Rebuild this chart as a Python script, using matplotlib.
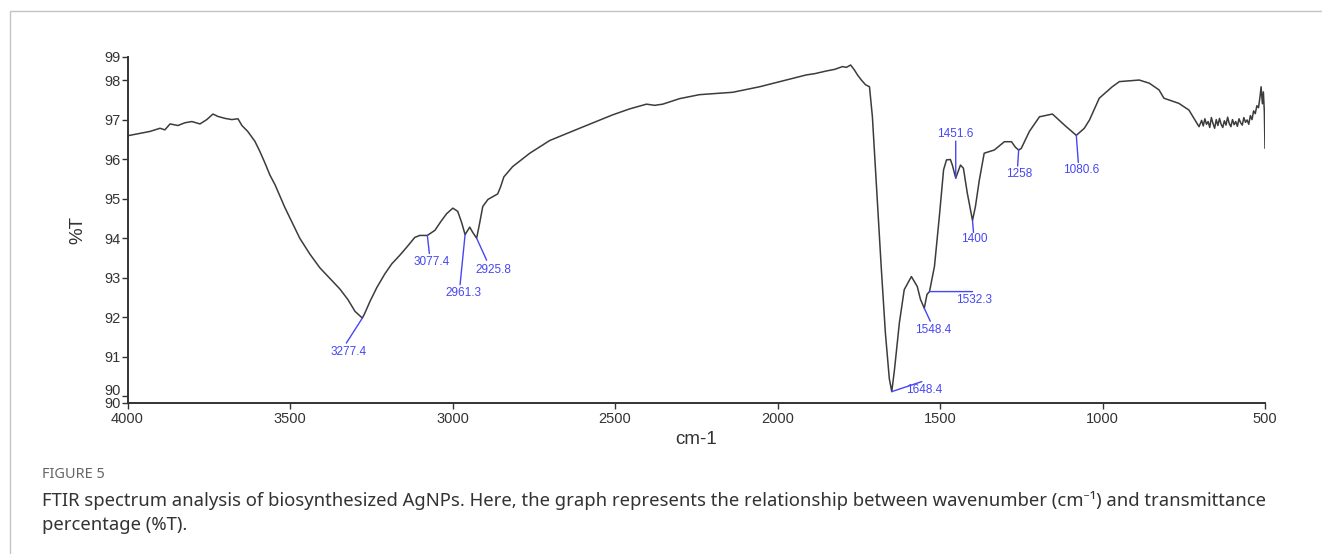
import numpy as np
import matplotlib
matplotlib.use('Agg')
import matplotlib.pyplot as plt
from matplotlib.patches import Rectangle
from matplotlib.transforms import ScaledTranslation

# spectrum (wavenumber cm-1, %T)
wavenumber = [4000, 3962, 3931, 3900, 3885, 3869, 3845, 3823, 3802, 3777,
              3756, 3737, 3722, 3700, 3679, 3660, 3648, 3630, 3608, 3593,
              3577, 3562, 3546, 3516, 3470, 3439, 3408, 3377, 3347, 3322,
              3300, 3277.4, 3270, 3254, 3233, 3208, 3187, 3162, 3138, 3116,
              3101, 3077.4, 3054, 3036, 3018, 2999, 2984, 2972, 2961.3, 2947,
              2938, 2925.8, 2916, 2907, 2891, 2876, 2861, 2852, 2842, 2815,
              2762, 2701, 2609, 2507, 2455, 2403, 2378, 2353, 2301, 2240,
              2138, 2055, 1963, 1911, 1886, 1849, 1824, 1800, 1788, 1775,
              1763, 1754, 1742, 1729, 1717, 1708, 1696, 1681, 1668, 1656,
              1648.4, 1640, 1625, 1610, 1588, 1570, 1560, 1548.4, 1540, 1532.3,
              1517, 1502, 1489, 1480, 1468, 1462, 1451.6, 1437, 1428, 1416,
              1400, 1391, 1379, 1364, 1333, 1302, 1280, 1268, 1258, 1250,
              1225, 1194, 1154, 1117, 1080.6, 1056, 1040, 1010, 970, 948,
              887, 856, 826, 811, 765, 734, 703, 695, 690, 685,
              680, 675, 670, 665, 660, 655, 650, 645, 640, 635,
              630, 625, 620, 615, 610, 605, 600, 595, 590, 585,
              580, 575, 570, 565, 560, 555, 550, 545, 540, 535,
              530, 525, 520, 515, 512, 508, 505, 502, 500]
transmittance = [96.59, 96.65, 96.70, 96.78, 96.74, 96.89, 96.85, 96.92, 96.95, 96.89,
                 97.00, 97.14, 97.08, 97.03, 97.00, 97.02, 96.85, 96.70, 96.45, 96.20,
                 95.90, 95.60, 95.35, 94.78, 94.00, 93.60, 93.25, 92.98, 92.72, 92.45,
                 92.15, 91.98, 92.10, 92.40, 92.75, 93.10, 93.35, 93.57, 93.80, 94.02,
                 94.07, 94.07, 94.20, 94.42, 94.62, 94.76, 94.68, 94.40, 94.09, 94.28,
                 94.15, 94.00, 94.40, 94.80, 94.98, 95.05, 95.12, 95.30, 95.55, 95.81,
                 96.15, 96.47, 96.78, 97.12, 97.27, 97.39, 97.36, 97.39, 97.53, 97.63,
                 97.69, 97.83, 98.02, 98.13, 98.16, 98.23, 98.27, 98.34, 98.32, 98.38,
                 98.25, 98.13, 98.00, 97.88, 97.83, 97.07, 95.40, 93.29, 91.60, 90.45,
                 90.12, 90.68, 91.86, 92.70, 93.03, 92.78, 92.45, 92.23, 92.58, 92.65,
                 93.29, 94.55, 95.73, 95.98, 95.99, 95.85, 95.52, 95.85, 95.77, 95.14,
                 94.45, 94.80, 95.47, 96.15, 96.23, 96.44, 96.44, 96.30, 96.23, 96.27,
                 96.70, 97.07, 97.14, 96.86, 96.60, 96.78, 96.99, 97.54, 97.83, 97.96,
                 98.00, 97.92, 97.75, 97.54, 97.41, 97.24, 96.82, 96.98, 96.84, 97.02,
                 96.88, 96.95, 96.80, 97.05, 96.90, 96.78, 97.00, 96.85, 97.03, 96.88,
                 96.80, 96.97, 96.86, 97.06, 96.90, 96.82, 97.00, 96.87, 96.95, 96.83,
                 97.02, 96.92, 96.86, 97.05, 96.93, 96.99, 96.88, 97.10, 97.00, 97.22,
                 97.15, 97.35, 97.30, 97.60, 97.83, 97.40, 97.70, 97.20, 96.28]

# labelled peaks and where their labels sit (offset in pixels from the peak)
peak_labels = ['3277.4', '3077.4', '2961.3', '2925.8', '1648.4', '1548.4',
               '1532.3', '1451.6', '1400', '1258', '1080.6']
peak_wn = [3277.4, 3077.4, 2961.3, 2925.8, 1648.4, 1548.4,
           1532.3, 1451.6, 1400, 1258, 1080.6]
line_off = [(-16, -25), (2, -18), (-5, -50), (10, -22), (30, 10), (6, -13),
            (43, 0), (0, 37), (1, -12), (-1, -16), (2, -27)]
text_off = [(-14, -34), (4, -27), (-2, -58), (17, -32), (32, 2), (9, -22),
            (45, -8), (0, 44), (2, -19), (1, -24), (5, -35)]

x_ticks = [4000, 3500, 3000, 2500, 2000, 1500, 1000, 500]
y_min, y_max = 89.84, 98.59
y_ticks = [y_min, 90, 91, 92, 93, 94, 95, 96, 97, 98, y_max]

caption_head = 'FIGURE 5'
caption_lines = ['FTIR spectrum analysis of biosynthesized AgNPs. Here, the graph represents the '
                 'relationship between wavenumber (cm\u207b\u00b9) and transmittance',
                 'percentage (%T).']

blue = '#4646f2'
tick_font = 'Liberation Sans'

fig = plt.figure(figsize=(13.22, 5.54), dpi=100)
fig.patches.append(Rectangle((10 / 1322, -0.1), 1.2, 1 - 11 / 554 + 0.1,
                             transform=fig.transFigure, fill=False,
                             edgecolor='#c4c4c4', linewidth=1.0))

ax = fig.add_axes([127.5 / 1322, 1 - 402.7 / 554, (1265 - 127.5) / 1322, (402.7 - 56.7) / 554])
ax.plot(wavenumber, transmittance, color='#3c3c3c', linewidth=1.1)
ax.set_xlim(4000, 500)
ax.set_ylim(y_min, y_max)

for side in ['top', 'right']:
    ax.spines[side].set_visible(False)
for side in ['left', 'bottom']:
    ax.spines[side].set_color('#333333')
    ax.spines[side].set_linewidth(1.4)

ax.set_xticks(x_ticks)
ax.set_xticklabels([str(t) for t in x_ticks])
ax.set_yticks(y_ticks)
ax.set_yticklabels(['%.0f' % t for t in y_ticks])
ax.tick_params(axis='both', length=4, width=1, color='#333333', labelcolor='#333333',
               labelsize=10.5, pad=1)
ax.tick_params(axis='x', pad=3)
for lab in ax.get_xticklabels() + ax.get_yticklabels():
    lab.set_fontfamily(tick_font)

# the two "90" labels sit stacked, as in the instrument printout
ylabs = ax.get_yticklabels()
ylabs[1].set_transform(ylabs[1].get_transform() + ScaledTranslation(0, 5 / 72, fig.dpi_scale_trans))

ax.set_xlabel('cm-1', fontfamily=tick_font, fontsize=13.5, color='#333333', labelpad=3)
ax.set_ylabel('%T', fontfamily=tick_font, fontsize=13.5, color='#333333', labelpad=13)

wn_inc = np.array(wavenumber)[::-1]
t_inc = np.array(transmittance)[::-1]
for lab, wn, lo, to in zip(peak_labels, peak_wn, line_off, text_off):
    t = np.interp(wn, wn_inc, t_inc)
    ax.annotate('', xy=(wn, t), xytext=lo, textcoords='offset pixels',
                arrowprops=dict(arrowstyle='-', color=blue, linewidth=1.0,
                                shrinkA=0, shrinkB=0))
    ax.annotate(lab, xy=(wn, t), xytext=to, textcoords='offset pixels',
                ha='center', va='center', color=blue, fontsize=8.5,
                fontfamily=tick_font)

fig.text(42 / 1322, 1 - 475 / 554, caption_head, fontfamily='Noto Sans', fontsize=10.5,
         color='#666666', va='center')
for i, line in enumerate(caption_lines):
    fig.text(42 / 1322, 1 - (500 + 25 * i) / 554, line,
             fontfamily=['Noto Sans', 'DejaVu Sans'], fontsize=13.3,
             color='#333333', va='center')

fig.savefig('out.png', dpi=100)
